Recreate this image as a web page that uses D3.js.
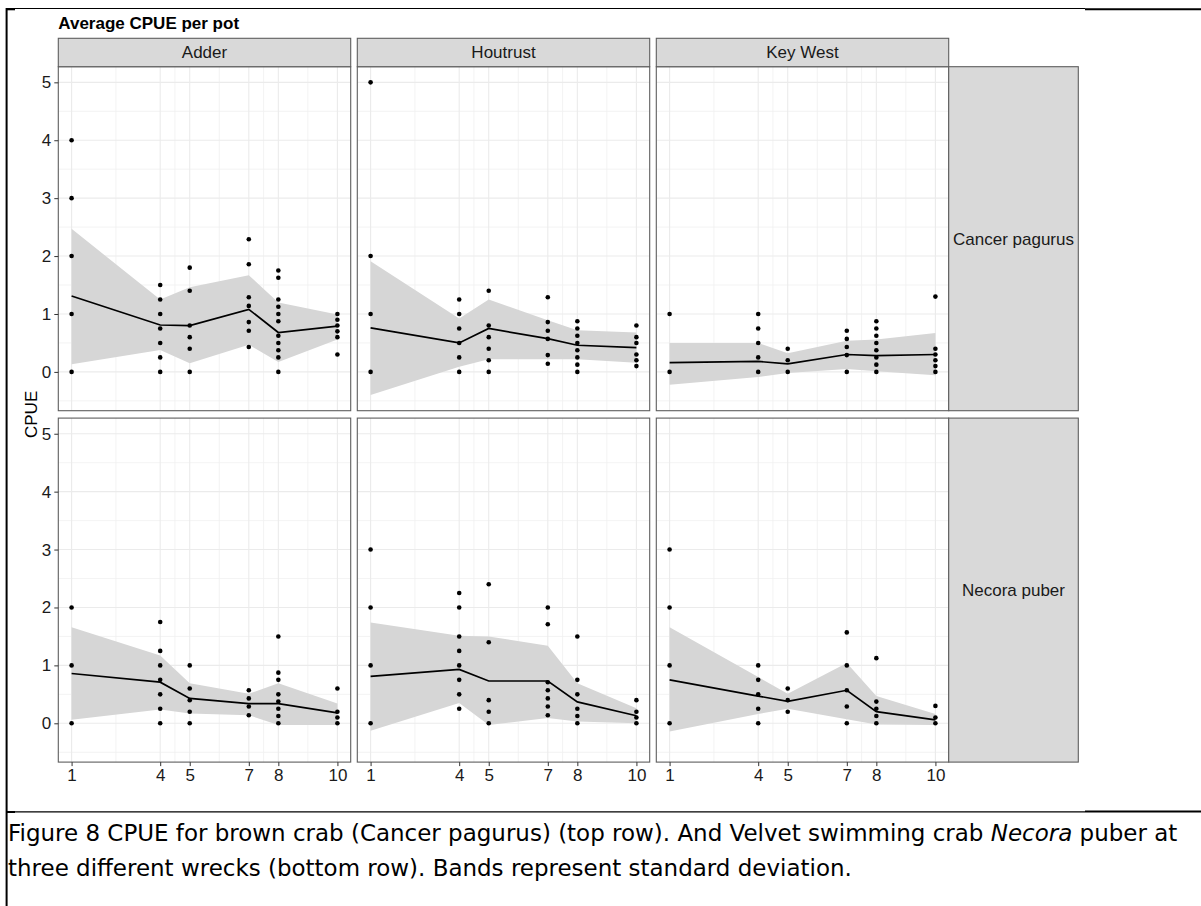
<!DOCTYPE html>
<html>
<head>
<meta charset="utf-8">
<script src="https://cdn.jsdelivr.net/npm/d3@7"></script>
<style>
  body { margin: 0; background: #fff; }
  svg { display: block; }
</style>
</head>
<body>
<div id="chart"></div>
<script>
const sites = ["Adder", "Houtrust", "Key West"];
const species = ["Cancer pagurus", "Necora puber"];
const soakDays = [1, 4, 5, 7, 8, 10];
const yTicks = [0, 1, 2, 3, 4, 5];

// mean CPUE per soak day, one row per site (Adder, Houtrust, Key West)
const cancerMean = [
  [1.31, 0.81, 0.80, 1.08, 0.68, 0.79],
  [0.76, 0.50, 0.75, 0.575, 0.46, 0.42],
  [0.16, 0.18, 0.14, 0.30, 0.28, 0.30],
];
const cancerUpper = [
  [2.47, 1.25, 1.46, 1.67, 1.20, 0.99],
  [1.91, 0.92, 1.25, 0.89, 0.72, 0.68],
  [0.50, 0.50, 0.32, 0.54, 0.56, 0.67],
];
const cancerLower = [
  [0.13, 0.38, 0.15, 0.47, 0.17, 0.56],
  [-0.40, 0.09, 0.22, 0.22, 0.22, 0.16],
  [-0.22, -0.09, -0.02, 0.05, 0.01, -0.06],
];

const necoraMean = [
  [0.86, 0.71, 0.43, 0.34, 0.34, 0.18],
  [0.81, 0.93, 0.73, 0.73, 0.37, 0.13],
  [0.75, 0.47, 0.38, 0.57, 0.20, 0.06],
];
const necoraUpper = [
  [1.66, 1.17, 0.69, 0.51, 0.69, 0.34],
  [1.74, 1.51, 1.50, 1.34, 0.69, 0.26],
  [1.66, 0.80, 0.51, 1.04, 0.47, 0.16],
];
const necoraLower = [
  [0.06, 0.24, 0.17, 0.14, -0.03, -0.03],
  [-0.13, 0.35, -0.03, 0.09, 0.03, 0.00],
  [-0.14, 0.16, 0.25, 0.07, -0.02, -0.03],
];

// single pot CPUE values, per site, per soak day
const cancerPoints = [
  [[0, 1, 2, 3, 4], [0, 0.25, 0.5, 0.75, 1, 1.25, 1.5], [0, 0.4, 0.6, 0.8, 1.4, 1.8],
   [0.43, 0.71, 0.86, 1.14, 1.29, 1.86, 2.29], [0, 0.25, 0.375, 0.5, 0.625, 0.875, 1, 1.125, 1.25, 1.625, 1.75],
   [0.3, 0.6, 0.7, 0.8, 0.9, 1]],
  [[0, 1, 2, 5], [0, 0.25, 0.5, 0.75, 1, 1.25], [0, 0.2, 0.4, 0.6, 0.8, 1.4],
   [0.14, 0.29, 0.57, 0.71, 0.86, 1.29], [0, 0.125, 0.25, 0.375, 0.5, 0.625, 0.75, 0.875],
   [0.1, 0.2, 0.3, 0.5, 0.6, 0.8]],
  [[0, 1], [0, 0.25, 0.5, 0.75, 1], [0, 0.2, 0.4],
   [0, 0.29, 0.43, 0.57, 0.71], [0, 0.125, 0.25, 0.375, 0.5, 0.625, 0.75, 0.875],
   [0, 0.1, 0.2, 0.3, 0.4, 1.3]],
];
const necoraPoints = [
  [[0, 1, 2], [0, 0.25, 0.5, 0.75, 1, 1.25, 1.75], [0, 0.2, 0.4, 0.6, 1],
   [0.14, 0.29, 0.43, 0.57], [0, 0.125, 0.25, 0.375, 0.5, 0.75, 0.875, 1.5],
   [0, 0.1, 0.2, 0.6]],
  [[0, 1, 2, 3], [0.25, 0.5, 0.75, 1, 1.25, 1.5, 2, 2.25], [0, 0.2, 0.4, 1.4, 2.4],
   [0.14, 0.29, 0.43, 0.57, 0.71, 1.71, 2], [0, 0.125, 0.25, 0.5, 0.75, 1.5],
   [0, 0.1, 0.2, 0.4]],
  [[0, 1, 2, 3], [0, 0.25, 0.5, 0.75, 1], [0.2, 0.4, 0.6],
   [0, 0.29, 0.57, 1, 1.57], [0, 0.125, 0.25, 0.375, 1.125],
   [0, 0.1, 0.3]],
];

const captionLine1 = ["Figure 8 CPUE for brown crab (Cancer pagurus) (top row). And Velvet swimming crab ", "Necora", " puber at"];
const captionLine2 = "three different wrecks (bottom row). Bands represent standard deviation.";

class FacetCpueChart {
  constructor(_config, _data) {
    this.config = {
      parentElement: _config.parentElement,
      containerWidth: _config.containerWidth || 1201,
      containerHeight: _config.containerHeight || 906,
      margin: { top: 38.3, left: 58.3 },
      stripHeight: 28.4,
      panelWidth: 292.4,
      panelHeight: 344,
      gapX: 6.6,
      gapY: 7.4,
      rowStripWidth: 129.6,
      fontFamily: "'Liberation Sans', Arial, sans-serif",
      fontSize: 17,
    };
    this.data = _data;
    this.initVis();
  }

  initVis() {
    let vis = this;
    const c = vis.config;

    vis.svg = d3
      .select(c.parentElement)
      .append("svg")
      .attr("width", c.containerWidth)
      .attr("height", c.containerHeight);

    // ggplot style 5% expansion of the data range
    const xExt = d3.extent(soakDays);
    const xPad = (xExt[1] - xExt[0]) * 0.05;
    vis.xScale = d3
      .scaleLinear()
      .domain([xExt[0] - xPad, xExt[1] + xPad])
      .range([0, c.panelWidth]);

    const allY = [];
    vis.data.forEach((p) => {
      p.lower.forEach((v) => allY.push(v));
      p.upper.forEach((v) => allY.push(v));
      p.points.forEach((arr) => arr.forEach((v) => allY.push(v)));
    });
    const yExt = d3.extent(allY);
    const yPad = (yExt[1] - yExt[0]) * 0.05;
    vis.yScale = d3
      .scaleLinear()
      .domain([yExt[0] - yPad, yExt[1] + yPad])
      .range([c.panelHeight, 0]);

    vis.chart = vis.svg
      .append("g")
      .attr("transform", `translate(${c.margin.left},${c.margin.top + c.stripHeight})`);

    vis.renderVis();
  }

  renderVis() {
    let vis = this;
    const c = vis.config;
    const x = vis.xScale;
    const y = vis.yScale;

    const xMinor = d3.pairs(soakDays).map((d) => (d[0] + d[1]) / 2);
    const yMinor = d3.range(-0.5, 5.5, 1).filter((v) => v > y.domain()[0] && v < y.domain()[1]);

    const area = d3
      .area()
      .x((d) => x(d.day))
      .y0((d) => y(d.lower))
      .y1((d) => y(d.upper));
    const line = d3
      .line()
      .x((d) => x(d.day))
      .y((d) => y(d.mean));

    const panels = vis.chart
      .selectAll(".panel")
      .data(vis.data)
      .join("g")
      .attr("class", "panel")
      .attr(
        "transform",
        (d) => `translate(${d.col * (c.panelWidth + c.gapX)},${d.row * (c.panelHeight + c.gapY)})`
      );

    panels
      .append("rect")
      .attr("width", c.panelWidth)
      .attr("height", c.panelHeight)
      .attr("fill", "#fff");

    // grid
    panels.each(function () {
      const g = d3.select(this).append("g");
      g.selectAll(".ymin")
        .data(yMinor)
        .join("line")
        .attr("x1", 0)
        .attr("x2", c.panelWidth)
        .attr("y1", (d) => y(d))
        .attr("y2", (d) => y(d))
        .attr("stroke", "#f0f0f0")
        .attr("stroke-width", 0.8);
      g.selectAll(".xmin")
        .data(xMinor)
        .join("line")
        .attr("y1", 0)
        .attr("y2", c.panelHeight)
        .attr("x1", (d) => x(d))
        .attr("x2", (d) => x(d))
        .attr("stroke", "#f0f0f0")
        .attr("stroke-width", 0.8);
      g.selectAll(".ymaj")
        .data(yTicks)
        .join("line")
        .attr("x1", 0)
        .attr("x2", c.panelWidth)
        .attr("y1", (d) => y(d))
        .attr("y2", (d) => y(d))
        .attr("stroke", "#ebebeb")
        .attr("stroke-width", 1.1);
      g.selectAll(".xmaj")
        .data(soakDays)
        .join("line")
        .attr("y1", 0)
        .attr("y2", c.panelHeight)
        .attr("x1", (d) => x(d))
        .attr("x2", (d) => x(d))
        .attr("stroke", "#ebebeb")
        .attr("stroke-width", 1.1);
    });

    panels
      .append("path")
      .attr("d", (d) => area(d.summary))
      .attr("fill", "#d6d6d6");

    panels
      .append("path")
      .attr("d", (d) => line(d.summary))
      .attr("fill", "none")
      .attr("stroke", "#000")
      .attr("stroke-width", 1.7);

    panels
      .append("g")
      .selectAll("circle")
      .data((d) => d.flatPoints)
      .join("circle")
      .attr("cx", (d) => x(d.day))
      .attr("cy", (d) => y(d.value))
      .attr("r", 2.3)
      .attr("fill", "#000");

    panels
      .append("rect")
      .attr("width", c.panelWidth)
      .attr("height", c.panelHeight)
      .attr("fill", "none")
      .attr("stroke", "#5e5e5e")
      .attr("stroke-width", 1.1);

    // axes, left column and bottom row only
    const styleAxis = (g) => {
      g.select(".domain").remove();
      g.selectAll(".tick line").attr("stroke", "#333").attr("stroke-width", 1);
      g.selectAll(".tick text")
        .attr("fill", "#1a1a1a")
        .style("font-family", c.fontFamily)
        .style("font-size", c.fontSize + "px");
    };

    panels
      .filter((d) => d.col === 0)
      .append("g")
      .call(d3.axisLeft(y).tickValues(yTicks).tickFormat(d3.format("d")).tickSize(4).tickPadding(3))
      .call(styleAxis);

    panels
      .filter((d) => d.row === species.length - 1)
      .append("g")
      .attr("transform", `translate(0,${c.panelHeight})`)
      .call(d3.axisBottom(x).tickValues(soakDays).tickFormat(d3.format("d")).tickSize(4).tickPadding(3))
      .call(styleAxis);

    // column strips
    const colStrips = vis.chart
      .selectAll(".col-strip")
      .data(sites)
      .join("g")
      .attr("class", "col-strip")
      .attr("transform", (d, i) => `translate(${i * (c.panelWidth + c.gapX)},${-c.stripHeight})`);
    colStrips
      .append("rect")
      .attr("width", c.panelWidth)
      .attr("height", c.stripHeight)
      .attr("fill", "#d9d9d9")
      .attr("stroke", "#5e5e5e")
      .attr("stroke-width", 1.1);
    colStrips
      .append("text")
      .attr("x", c.panelWidth / 2)
      .attr("y", c.stripHeight / 2)
      .attr("dy", "0.35em")
      .attr("text-anchor", "middle")
      .attr("fill", "#1a1a1a")
      .style("font-family", c.fontFamily)
      .style("font-size", c.fontSize + "px")
      .text((d) => d);

    // row strips
    const stripX = sites.length * c.panelWidth + (sites.length - 1) * c.gapX;
    const rowStrips = vis.chart
      .selectAll(".row-strip")
      .data(species)
      .join("g")
      .attr("class", "row-strip")
      .attr("transform", (d, i) => `translate(${stripX},${i * (c.panelHeight + c.gapY)})`);
    rowStrips
      .append("rect")
      .attr("width", c.rowStripWidth)
      .attr("height", c.panelHeight)
      .attr("fill", "#d9d9d9")
      .attr("stroke", "#5e5e5e")
      .attr("stroke-width", 1.1);
    rowStrips
      .append("text")
      .attr("x", c.rowStripWidth / 2)
      .attr("y", c.panelHeight / 2)
      .attr("dy", "0.35em")
      .attr("text-anchor", "middle")
      .attr("fill", "#1a1a1a")
      .style("font-family", c.fontFamily)
      .style("font-size", c.fontSize + "px")
      .text((d) => d);

    // title and y label
    vis.svg
      .append("text")
      .attr("x", c.margin.left)
      .attr("y", 29.3)
      .attr("fill", "#000")
      .style("font-family", c.fontFamily)
      .style("font-size", c.fontSize + "px")
      .style("font-weight", "bold")
      .text("Average CPUE per pot");

    const midY = c.margin.top + c.stripHeight + (species.length * c.panelHeight + c.gapY) / 2;
    vis.svg
      .append("text")
      .attr("transform", `translate(36.5,${midY}) rotate(-90)`)
      .attr("text-anchor", "middle")
      .attr("fill", "#000")
      .style("font-family", c.fontFamily)
      .style("font-size", c.fontSize + "px")
      .text("CPUE");

    vis.renderFrame();
  }

  renderFrame() {
    let vis = this;
    const frame = vis.svg.append("g").attr("stroke", "#000");
    frame.append("line").attr("x1", 6).attr("x2", 1085).attr("y1", 8.5).attr("y2", 8.5).attr("stroke-width", 1.2);
    frame.append("line").attr("x1", 1085).attr("x2", 1201).attr("y1", 9.3).attr("y2", 9.3).attr("stroke-width", 2);
    frame.append("line").attr("x1", 6).attr("x2", 1085).attr("y1", 811.8).attr("y2", 811.8).attr("stroke-width", 1.2);
    frame.append("line").attr("x1", 1085).attr("x2", 1201).attr("y1", 811.6).attr("y2", 811.6).attr("stroke-width", 2);
    frame.append("line").attr("x1", 6.6).attr("x2", 6.6).attr("y1", 8).attr("y2", 906).attr("stroke-width", 2);
    frame.append("line").attr("x1", 6).attr("x2", 15).attr("y1", 9.3).attr("y2", 9.3).attr("stroke-width", 2);
    frame.append("line").attr("x1", 6).attr("x2", 15).attr("y1", 812).attr("y2", 812).attr("stroke-width", 2);

    const capFont = "'DejaVu Sans', Verdana, sans-serif";
    const cap = vis.svg.append("g").style("font-family", capFont).attr("fill", "#000");
    const t1 = cap.append("text").attr("x", 8).attr("y", 841).style("font-size", "20px");
    captionLine1.forEach((s, i) => {
      t1.append("tspan").style("font-style", i === 1 ? "italic" : "normal").text(s);
    });
    const t2 = cap.append("text").attr("x", 8).attr("y", 876).style("font-size", "20px").text(captionLine2);

    // fit caption width to the page column
    const len = t1.node().getComputedTextLength();
    const size = 20 * (1170 / len);
    t1.style("font-size", size + "px");
    t2.style("font-size", size + "px");
  }
}

const panelData = [];
species.forEach((sp, r) => {
  const mean = r === 0 ? cancerMean : necoraMean;
  const upper = r === 0 ? cancerUpper : necoraUpper;
  const lower = r === 0 ? cancerLower : necoraLower;
  const pts = r === 0 ? cancerPoints : necoraPoints;
  sites.forEach((site, s) => {
    panelData.push({
      row: r,
      col: s,
      species: sp,
      site: site,
      lower: lower[s],
      upper: upper[s],
      points: pts[s],
      summary: soakDays.map((day, k) => ({
        day: day,
        mean: mean[s][k],
        upper: upper[s][k],
        lower: lower[s][k],
      })),
      flatPoints: soakDays.flatMap((day, k) => pts[s][k].map((v) => ({ day: day, value: v }))),
    });
  });
});

const chart = new FacetCpueChart({ parentElement: "#chart" }, panelData);
</script>
</body>
</html>
